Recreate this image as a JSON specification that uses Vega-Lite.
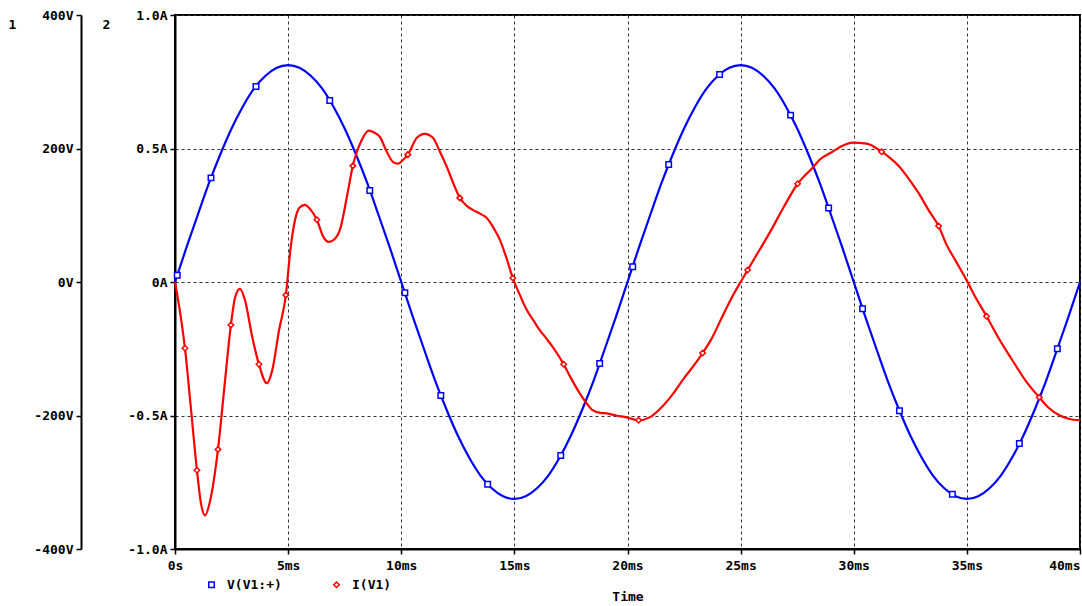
{
  "$schema": "https://vega.github.io/schema/vega-lite/v6.json",
  "width": 905,
  "height": 534,
  "autosize": {"type": "none"},
  "padding": {"left": 175, "top": 15, "right": 2, "bottom": 57},
  "background": "white",
  "config": {
    "view": {"stroke": "black", "strokeWidth": 2},
    "font": "DejaVu Sans Mono",
    "axis": {
      "labelFont": "DejaVu Sans Mono", "labelFontWeight": "bold", "labelFontSize": 13, "labelColor": "black",
      "titleFont": "DejaVu Sans Mono", "titleFontWeight": "bold", "titleFontSize": 13, "titleColor": "black",
      "domainColor": "black", "domainWidth": 2, "tickColor": "black", "tickWidth": 1.5, "tickSize": 5
    }
  },
  "datasets": {
    "v": [
      {"t":0,"V":0},{"t":0.5,"V":51},{"t":1,"V":100},{"t":1.5,"V":148},{"t":2,"V":191},{"t":2.5,"V":230},{"t":3,"V":263},{"t":3.5,"V":290},{"t":4,"V":309},{"t":4.5,"V":321},
      {"t":5,"V":325},{"t":5.5,"V":321},{"t":6,"V":309},{"t":6.5,"V":290},{"t":7,"V":263},{"t":7.5,"V":230},{"t":8,"V":191},{"t":8.5,"V":148},{"t":9,"V":100},{"t":9.5,"V":51},
      {"t":10,"V":0},{"t":10.5,"V":-51},{"t":11,"V":-100},{"t":11.5,"V":-148},{"t":12,"V":-191},{"t":12.5,"V":-230},{"t":13,"V":-263},{"t":13.5,"V":-290},{"t":14,"V":-309},{"t":14.5,"V":-321},
      {"t":15,"V":-325},{"t":15.5,"V":-321},{"t":16,"V":-309},{"t":16.5,"V":-290},{"t":17,"V":-263},{"t":17.5,"V":-230},{"t":18,"V":-191},{"t":18.5,"V":-148},{"t":19,"V":-100},{"t":19.5,"V":-51},
      {"t":20,"V":0},{"t":20.5,"V":51},{"t":21,"V":100},{"t":21.5,"V":148},{"t":22,"V":191},{"t":22.5,"V":230},{"t":23,"V":263},{"t":23.5,"V":290},{"t":24,"V":309},{"t":24.5,"V":321},
      {"t":25,"V":325},{"t":25.5,"V":321},{"t":26,"V":309},{"t":26.5,"V":290},{"t":27,"V":263},{"t":27.5,"V":230},{"t":28,"V":191},{"t":28.5,"V":148},{"t":29,"V":100},{"t":29.5,"V":51},
      {"t":30,"V":0},{"t":30.5,"V":-51},{"t":31,"V":-100},{"t":31.5,"V":-148},{"t":32,"V":-191},{"t":32.5,"V":-230},{"t":33,"V":-263},{"t":33.5,"V":-290},{"t":34,"V":-309},{"t":34.5,"V":-321},
      {"t":35,"V":-325},{"t":35.5,"V":-321},{"t":36,"V":-309},{"t":36.5,"V":-290},{"t":37,"V":-263},{"t":37.5,"V":-230},{"t":38,"V":-191},{"t":38.5,"V":-148},{"t":39,"V":-100},{"t":39.5,"V":-51},
      {"t":40,"V":0}
    ],
    "vm": [
      {"t":0.1,"V":10,"series":"V(V1:+)"},{"t":1.59,"V":156,"series":"V(V1:+)"},{"t":3.58,"V":293,"series":"V(V1:+)"},{"t":6.84,"V":272,"series":"V(V1:+)"},
      {"t":8.61,"V":137,"series":"V(V1:+)"},{"t":10.16,"V":-16,"series":"V(V1:+)"},{"t":11.75,"V":-170,"series":"V(V1:+)"},{"t":13.82,"V":-303,"series":"V(V1:+)"},
      {"t":17.05,"V":-260,"series":"V(V1:+)"},{"t":18.77,"V":-122,"series":"V(V1:+)"},{"t":20.23,"V":23,"series":"V(V1:+)"},{"t":21.82,"V":176,"series":"V(V1:+)"},
      {"t":24.07,"V":311,"series":"V(V1:+)"},{"t":27.21,"V":250,"series":"V(V1:+)"},{"t":28.89,"V":111,"series":"V(V1:+)"},{"t":30.39,"V":-40,"series":"V(V1:+)"},
      {"t":32.02,"V":-193,"series":"V(V1:+)"},{"t":34.36,"V":-318,"series":"V(V1:+)"},{"t":37.32,"V":-242,"series":"V(V1:+)"},{"t":39.0,"V":-100,"series":"V(V1:+)"}
    ],
    "i": [
      {"t":0,"I":0},{"t":0.2,"I":-0.1},{"t":0.44,"I":-0.248},{"t":0.7,"I":-0.47},{"t":0.97,"I":-0.705},{"t":1.15,"I":-0.83},{"t":1.33,"I":-0.874},{"t":1.55,"I":-0.82},
      {"t":1.9,"I":-0.627},{"t":2.2,"I":-0.38},{"t":2.47,"I":-0.161},{"t":2.65,"I":-0.06},{"t":2.87,"I":-0.026},{"t":3.1,"I":-0.07},{"t":3.4,"I":-0.2},{"t":3.71,"I":-0.308},
      {"t":4.06,"I":-0.379},{"t":4.3,"I":-0.33},{"t":4.6,"I":-0.18},{"t":4.9,"I":-0.049},{"t":5.1,"I":0.12},{"t":5.3,"I":0.23},{"t":5.5,"I":0.278},{"t":5.74,"I":0.289},{"t":6.0,"I":0.27},
      {"t":6.27,"I":0.233},{"t":6.55,"I":0.17},{"t":6.8,"I":0.15},{"t":7.05,"I":0.16},{"t":7.29,"I":0.195},{"t":7.6,"I":0.32},{"t":7.86,"I":0.435},{"t":8.26,"I":0.533},
      {"t":8.57,"I":0.567},{"t":8.8,"I":0.56},{"t":9.05,"I":0.544},{"t":9.35,"I":0.49},{"t":9.63,"I":0.45},{"t":9.85,"I":0.443},{"t":10.05,"I":0.455},{"t":10.29,"I":0.477},
      {"t":10.69,"I":0.54},{"t":11.04,"I":0.555},{"t":11.4,"I":0.54},{"t":11.7,"I":0.49},{"t":12.01,"I":0.432},{"t":12.3,"I":0.37},{"t":12.59,"I":0.315},{"t":12.9,"I":0.285},
      {"t":13.16,"I":0.27},{"t":13.5,"I":0.255},{"t":13.78,"I":0.24},{"t":14.1,"I":0.2},{"t":14.36,"I":0.158},{"t":14.65,"I":0.09},{"t":14.93,"I":0.015},{"t":15.25,"I":-0.05},
      {"t":15.55,"I":-0.105},{"t":15.85,"I":-0.145},{"t":16.12,"I":-0.18},{"t":16.4,"I":-0.21},{"t":16.7,"I":-0.244},{"t":17.18,"I":-0.308},{"t":17.5,"I":-0.36},{"t":17.89,"I":-0.417},
      {"t":18.2,"I":-0.455},{"t":18.46,"I":-0.48},{"t":18.8,"I":-0.49},{"t":19.08,"I":-0.492},{"t":19.5,"I":-0.5},{"t":19.96,"I":-0.507},{"t":20.49,"I":-0.518},{"t":20.98,"I":-0.507},
      {"t":21.5,"I":-0.47},{"t":22.0,"I":-0.42},{"t":22.5,"I":-0.36},{"t":23.0,"I":-0.305},{"t":23.32,"I":-0.266},{"t":23.7,"I":-0.215},{"t":24.16,"I":-0.135},{"t":24.6,"I":-0.06},
      {"t":25.0,"I":0.0},{"t":25.31,"I":0.045},{"t":25.8,"I":0.115},{"t":26.28,"I":0.184},{"t":26.9,"I":0.28},{"t":27.52,"I":0.368},{"t":28.18,"I":0.428},{"t":28.49,"I":0.458},
      {"t":29.06,"I":0.488},{"t":29.5,"I":0.51},{"t":29.95,"I":0.522},{"t":30.57,"I":0.518},{"t":31.23,"I":0.488},{"t":31.6,"I":0.465},{"t":32.02,"I":0.432},{"t":32.4,"I":0.39},
      {"t":32.91,"I":0.327},{"t":33.3,"I":0.27},{"t":33.75,"I":0.21},{"t":34.1,"I":0.14},{"t":34.5,"I":0.08},{"t":34.98,"I":0.008},{"t":35.4,"I":-0.06},{"t":35.87,"I":-0.128},
      {"t":36.4,"I":-0.21},{"t":37.01,"I":-0.293},{"t":37.6,"I":-0.37},{"t":38.2,"I":-0.432},{"t":38.6,"I":-0.47},{"t":39.09,"I":-0.499},{"t":39.5,"I":-0.512},{"t":40,"I":-0.518}
    ],
    "im": [
      {"t":0.44,"I":-0.248,"series":"I(V1)"},{"t":0.97,"I":-0.705,"series":"I(V1)"},{"t":1.9,"I":-0.627,"series":"I(V1)"},{"t":2.47,"I":-0.161,"series":"I(V1)"},
      {"t":3.71,"I":-0.308,"series":"I(V1)"},{"t":4.9,"I":-0.049,"series":"I(V1)"},{"t":6.27,"I":0.233,"series":"I(V1)"},{"t":7.86,"I":0.435,"series":"I(V1)"},
      {"t":10.29,"I":0.477,"series":"I(V1)"},{"t":12.59,"I":0.315,"series":"I(V1)"},{"t":14.93,"I":0.015,"series":"I(V1)"},{"t":17.18,"I":-0.308,"series":"I(V1)"},
      {"t":20.49,"I":-0.518,"series":"I(V1)"},{"t":23.32,"I":-0.266,"series":"I(V1)"},{"t":25.31,"I":0.045,"series":"I(V1)"},{"t":27.52,"I":0.368,"series":"I(V1)"},
      {"t":31.23,"I":0.488,"series":"I(V1)"},{"t":33.75,"I":0.21,"series":"I(V1)"},{"t":35.87,"I":-0.128,"series":"I(V1)"},{"t":38.2,"I":-0.432,"series":"I(V1)"}
    ]
  },
  "layer": [
    {
      "encoding": {
        "x": {"field": "t", "type": "quantitative", "scale": {"domain": [0, 40], "nice": false, "zero": false},
          "axis": {"values": [0,5,10,15,20,25,30,35,40], "labelExpr": "datum.value == 0 ? '0s' : datum.value + 'ms'", "title": "Time",
            "grid": true, "gridDash": [3,3], "gridColor": "#333", "gridWidth": 1, "labelPadding": 5, "titlePadding": 18, "labelFlush": false,
            "labelAlign": {"condition": {"test": "datum.value >= 40", "value": "right"}, "value": "center"}}},
        "y": {"field": "V", "type": "quantitative", "scale": {"domain": [-400, 400], "nice": false},
          "axis": {"orient": "left", "offset": 94, "values": [-400,-200,0,200,400], "labelExpr": "datum.value + 'V'", "grid": false,
            "title": "1", "titleAngle": 0, "titleX": -69, "titleY": 9, "titleAlign": "center", "titleBaseline": "middle", "labelPadding": 3}}
      },
      "layer": [
        {"data": {"name": "v"}, "mark": {"type": "line", "color": "#0000ff", "strokeWidth": 2.2, "interpolate": "monotone"}},
        {"data": {"name": "vm"}, "mark": {"type": "point", "filled": false, "fill": "white", "size": 30, "strokeWidth": 1.5, "opacity": 1},
          "encoding": {
            "color": {"field": "series", "type": "nominal", "scale": {"domain": ["V(V1:+)", "I(V1)"], "range": ["#0000ff", "#ff0000"]},
              "legend": {"orient": "none", "legendX": 30, "legendY": 563, "direction": "horizontal", "title": null, "labelFont": "DejaVu Sans Mono", "labelFontSize": 13, "labelFontWeight": "bold", "labelColor": "black", "symbolStrokeWidth": 1.5, "symbolSize": 30, "labelOffset": 9, "columnPadding": 48, "padding": 0, "symbolFillColor": "white"}},
            "shape": {"field": "series", "type": "nominal", "scale": {"domain": ["V(V1:+)", "I(V1)"], "range": ["square", "diamond"]},
              "legend": {"orient": "none", "legendX": 30, "legendY": 563, "direction": "horizontal", "title": null, "labelFont": "DejaVu Sans Mono", "labelFontSize": 13, "labelFontWeight": "bold", "labelColor": "black", "symbolStrokeWidth": 1.5, "symbolSize": 30, "labelOffset": 9, "columnPadding": 48, "padding": 0, "symbolFillColor": "white"}}
          }}
      ]
    },
    {
      "encoding": {
        "x": {"field": "t", "type": "quantitative", "scale": {"domain": [0, 40], "nice": false, "zero": false},
          "axis": {"values": [0,5,10,15,20,25,30,35,40], "labelExpr": "datum.value == 0 ? '0s' : datum.value + 'ms'", "title": "Time",
            "grid": true, "gridDash": [3,3], "gridColor": "#333", "gridWidth": 1, "labelPadding": 5, "titlePadding": 18, "labelFlush": false,
            "labelAlign": {"condition": {"test": "datum.value >= 40", "value": "right"}, "value": "center"}}},
        "y": {"field": "I", "type": "quantitative", "scale": {"domain": [-1, 1], "nice": false},
          "axis": {"orient": "left", "offset": 0, "values": [-1,-0.5,0,0.5,1],
            "labelExpr": "datum.value == 0 ? '0A' : (datum.value < 0 ? '-' : '') + format(abs(datum.value), '.1f') + 'A'",
            "grid": true, "gridDash": [3,3], "gridColor": "#333", "gridWidth": 1,
            "title": "2", "titleAngle": 0, "titleX": -69, "titleY": 9, "titleAlign": "center", "titleBaseline": "middle", "labelPadding": 3}}
      },
      "layer": [
        {"data": {"name": "i"}, "mark": {"type": "line", "color": "#ff0000", "strokeWidth": 2.2, "interpolate": "monotone"}},
        {"data": {"name": "im"}, "mark": {"type": "point", "filled": false, "fill": "white", "size": 30, "strokeWidth": 1.5, "opacity": 1},
          "encoding": {
            "color": {"field": "series", "type": "nominal", "scale": {"domain": ["V(V1:+)", "I(V1)"], "range": ["#0000ff", "#ff0000"]},
              "legend": {"orient": "none", "legendX": 30, "legendY": 563, "direction": "horizontal", "title": null, "labelFont": "DejaVu Sans Mono", "labelFontSize": 13, "labelFontWeight": "bold", "labelColor": "black", "symbolStrokeWidth": 1.5, "symbolSize": 30, "labelOffset": 9, "columnPadding": 48, "padding": 0, "symbolFillColor": "white"}},
            "shape": {"field": "series", "type": "nominal", "scale": {"domain": ["V(V1:+)", "I(V1)"], "range": ["square", "diamond"]},
              "legend": {"orient": "none", "legendX": 30, "legendY": 563, "direction": "horizontal", "title": null, "labelFont": "DejaVu Sans Mono", "labelFontSize": 13, "labelFontWeight": "bold", "labelColor": "black", "symbolStrokeWidth": 1.5, "symbolSize": 30, "labelOffset": 9, "columnPadding": 48, "padding": 0, "symbolFillColor": "white"}}
          }}
      ]
    }
  ],
  "resolve": {"scale": {"y": "independent"}}
}
